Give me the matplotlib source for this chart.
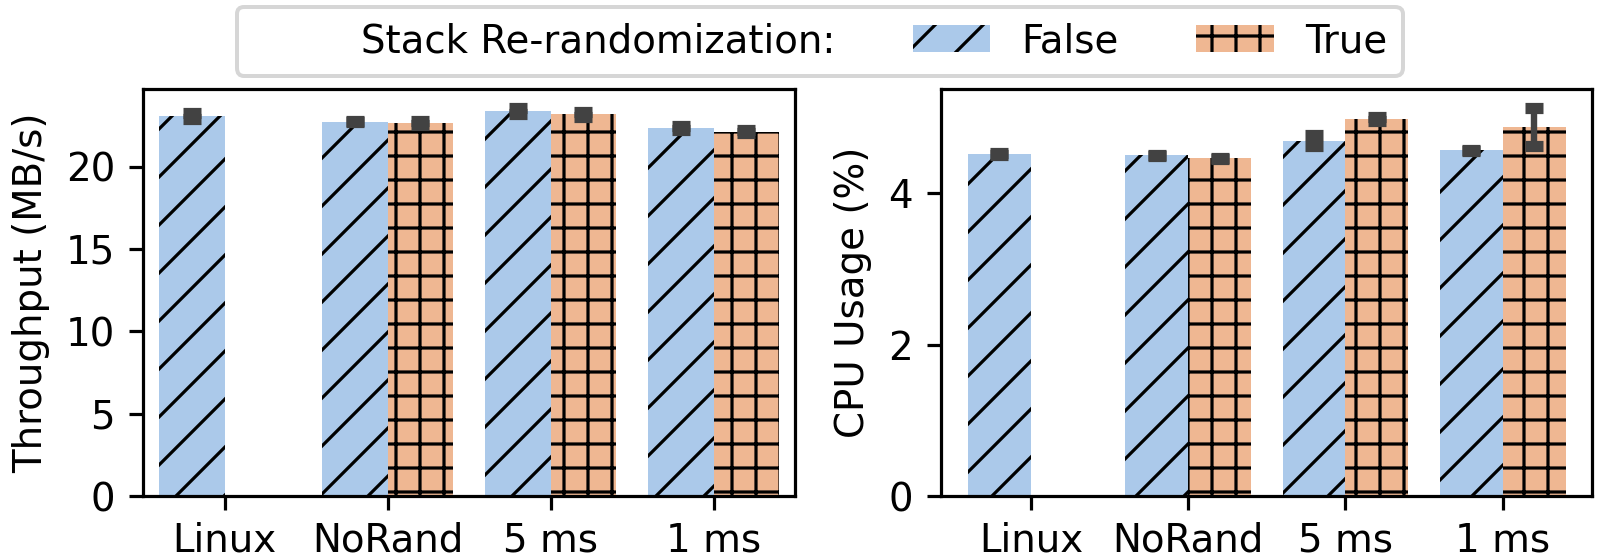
import numpy as np
import matplotlib
matplotlib.use('Agg')
import matplotlib.pyplot as plt
from matplotlib.patches import Patch

plt.rcParams['font.family'] = ['DejaVu Sans']
plt.rcParams['font.size'] = 9.7
plt.rcParams['hatch.linewidth'] = 0.8
plt.rcParams['xtick.major.pad'] = 2.8

configs = ['Linux', 'NoRand', '5 ms', '1 ms']
nan = np.nan

# means and half-widths of the confidence intervals
tput_false = [23.05, 22.72, 23.35, 22.35]
tput_true = [nan, 22.64, 23.16, 22.12]
tput_err_false = [0.18, 0.03, 0.18, 0.12]
tput_err_true = [nan, 0.12, 0.15, 0.09]

cpu_false = [4.52, 4.50, 4.69, 4.565]
cpu_true = [nan, 4.46, 4.98, 4.87]
cpu_err_false = [0.01, 0.01, 0.072, 0.01]
cpu_err_true = [nan, 0.01, 0.02, 0.25]

c_false = '#abc9ea'
c_true = '#efb792'
err_c = '#424242'
w = 0.4

dpi = 288
fig = plt.figure(figsize=(1598/dpi, 557/dpi), dpi=dpi)
ax1 = fig.add_axes([0.0895, 0.1095, 0.408, 0.7307])
ax2 = fig.add_axes([0.589, 0.1095, 0.4075, 0.7307])

def draw(ax, yf, yt, ef, et, ylabel):
    x = np.arange(len(configs))
    ax.bar(x - w/2, yf, w, color=c_false, hatch='//', edgecolor='black', linewidth=0, zorder=2)
    ax.bar(x + w/2, yt, w, color=c_true, hatch='++', edgecolor='black', linewidth=0, zorder=2)
    for xs, ys, es in ((x - w/2, yf, ef), (x + w/2, yt, et)):
        ax.errorbar(xs, ys, yerr=es, fmt='none', ecolor=err_c, elinewidth=1.6,
                    capsize=2.3, capthick=2.8, zorder=3)
    ax.set_xticks(x)
    ax.set_xticklabels(configs)
    ax.set_ylabel(ylabel)
    for s in ax.spines.values():
        s.set_color('black')
        s.set_linewidth(0.8)

draw(ax1, tput_false, tput_true, tput_err_false, tput_err_true, 'Throughput (MB/s)')
draw(ax2, cpu_false, cpu_true, cpu_err_false, cpu_err_true, 'CPU Usage (%)')
ax1.set_xlim(-0.5, 3.5)
ax2.set_xlim(-0.57, 3.57)
ax1.set_ylim(bottom=0)
ax2.set_ylim(bottom=0)
ax1.set_yticks([0, 5, 10, 15, 20])
ax2.set_yticks([0, 2, 4])

handles = [Patch(facecolor='none', edgecolor='none'),
           Patch(facecolor=c_false, hatch='//', edgecolor='black', linewidth=0),
           Patch(facecolor=c_true, hatch='++', edgecolor='black', linewidth=0)]
labels = ['Stack Re-randomization:', 'False', 'True']
fig.legend(handles, labels, ncol=3, loc='upper center', borderaxespad=0,
           bbox_to_anchor=(0.513, 0.988), bbox_transform=fig.transFigure)

fig.savefig('out.png', dpi=dpi)
